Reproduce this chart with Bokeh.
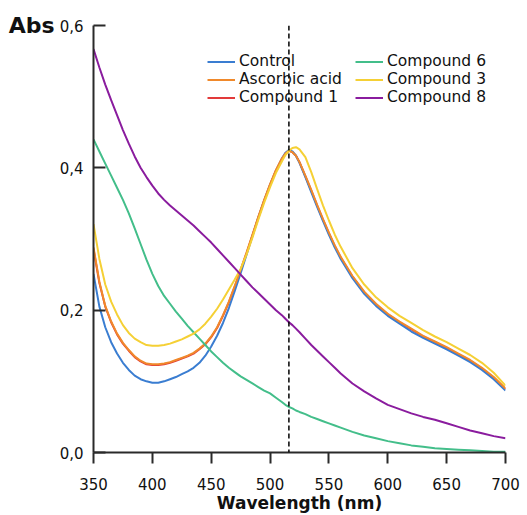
from bokeh.plotting import figure
from bokeh.models import ColumnDataSource, Legend, LegendItem, Span, FixedTicker
from bokeh.embed import file_html
from bokeh.resources import INLINE

# ---------------- data ----------------
wavelength = [350, 355, 360, 365, 370, 375, 380, 385, 390, 395,
              400, 405, 410, 415, 420, 425, 430, 435, 440, 445,
              450, 455, 460, 465, 470, 475, 480, 485, 490, 495,
              500, 505, 510, 513, 516, 519, 522, 525, 530, 535,
              540, 545, 550, 555, 560, 570, 580, 590, 600, 610,
              620, 630, 640, 650, 660, 670, 680, 690, 700]

control = [0.251, 0.205, 0.176, 0.155, 0.139, 0.126, 0.116, 0.108, 0.103, 0.100,
           0.098, 0.098, 0.100, 0.103, 0.106, 0.110, 0.114, 0.119, 0.126, 0.136,
           0.149, 0.164, 0.182, 0.203, 0.227, 0.252, 0.278, 0.304, 0.330, 0.354,
           0.376, 0.396, 0.413, 0.421, 0.425, 0.423, 0.417, 0.407, 0.387, 0.366,
           0.345, 0.325, 0.306, 0.288, 0.272, 0.245, 0.223, 0.206, 0.192, 0.181,
           0.170, 0.161, 0.153, 0.145, 0.136, 0.127, 0.116, 0.103, 0.087]

ascorbic_acid = [0.288, 0.240, 0.206, 0.184, 0.167, 0.154, 0.144, 0.135, 0.129, 0.125,
                 0.124, 0.124, 0.125, 0.127, 0.130, 0.133, 0.136, 0.140, 0.146, 0.153,
                 0.163, 0.176, 0.193, 0.212, 0.234, 0.257, 0.281, 0.306, 0.331, 0.355,
                 0.377, 0.397, 0.413, 0.420, 0.424, 0.422, 0.417, 0.408, 0.389, 0.369,
                 0.348, 0.328, 0.309, 0.291, 0.275, 0.248, 0.226, 0.209, 0.195, 0.184,
                 0.174, 0.164, 0.156, 0.148, 0.139, 0.130, 0.119, 0.106, 0.090]

compound_1 = [0.286, 0.238, 0.205, 0.183, 0.166, 0.153, 0.143, 0.134, 0.128, 0.124,
              0.123, 0.123, 0.124, 0.126, 0.129, 0.132, 0.135, 0.139, 0.145, 0.152,
              0.162, 0.175, 0.192, 0.211, 0.233, 0.256, 0.280, 0.305, 0.330, 0.354,
              0.376, 0.396, 0.412, 0.419, 0.424, 0.422, 0.417, 0.408, 0.388, 0.368,
              0.347, 0.327, 0.308, 0.290, 0.274, 0.247, 0.225, 0.208, 0.194, 0.183,
              0.173, 0.163, 0.155, 0.147, 0.138, 0.129, 0.118, 0.105, 0.089]

compound_6 = [0.440, 0.423, 0.406, 0.389, 0.372, 0.355, 0.336, 0.315, 0.293, 0.271,
              0.251, 0.234, 0.220, 0.209, 0.198, 0.188, 0.178, 0.169, 0.160, 0.151,
              0.142, 0.134, 0.126, 0.119, 0.113, 0.107, 0.102, 0.097, 0.092, 0.087,
              0.083, 0.077, 0.071, 0.067, 0.064, 0.062, 0.059, 0.057, 0.054, 0.050,
              0.047, 0.044, 0.041, 0.038, 0.035, 0.029, 0.024, 0.020, 0.016, 0.013,
              0.010, 0.008, 0.006, 0.005, 0.004, 0.003, 0.002, 0.001, 0.001]

compound_3 = [0.321, 0.272, 0.236, 0.212, 0.194, 0.179, 0.168, 0.160, 0.155, 0.151,
              0.150, 0.150, 0.151, 0.153, 0.156, 0.159, 0.163, 0.167, 0.173, 0.181,
              0.191, 0.202, 0.215, 0.229, 0.243, 0.258, 0.278, 0.302, 0.327, 0.351,
              0.373, 0.393, 0.409, 0.418, 0.424, 0.428, 0.429, 0.426, 0.415, 0.394,
              0.370, 0.347, 0.326, 0.306, 0.289, 0.259, 0.236, 0.218, 0.204, 0.192,
              0.182, 0.172, 0.163, 0.155, 0.146, 0.137, 0.126, 0.112, 0.094]

compound_8 = [0.567, 0.541, 0.517, 0.495, 0.474, 0.453, 0.434, 0.416, 0.400, 0.387,
              0.375, 0.364, 0.355, 0.347, 0.340, 0.333, 0.326, 0.319, 0.311, 0.303,
              0.295, 0.286, 0.277, 0.268, 0.259, 0.250, 0.241, 0.232, 0.224, 0.216,
              0.208, 0.200, 0.193, 0.188, 0.183, 0.179, 0.174, 0.169, 0.160, 0.151,
              0.143, 0.135, 0.127, 0.119, 0.111, 0.097, 0.086, 0.076, 0.067, 0.061,
              0.055, 0.050, 0.046, 0.041, 0.036, 0.031, 0.027, 0.023, 0.020]

peak_wavelength = 516
x_ticks = [350, 400, 450, 500, 550, 600, 650, 700]
y_ticks = [0.0, 0.2, 0.4, 0.6]
y_tick_labels = ["0,0", "0,2", "0,4", "0,6"]

series = [
    ("Compound 1", compound_1, "#e23a3a"),
    ("Control", control, "#3a7dd1"),
    ("Ascorbic acid", ascorbic_acid, "#f0892b"),
    ("Compound 6", compound_6, "#43be8a"),
    ("Compound 3", compound_3, "#f5d035"),
    ("Compound 8", compound_8, "#8a1c9e"),
]
legend_order = ["Control", "Ascorbic acid", "Compound 1",
                "Compound 6", "Compound 3", "Compound 8"]

FONT = "DejaVu Sans"

p = figure(width=527, height=515, x_range=(350, 700), y_range=(0, 0.6),
           output_backend="svg", toolbar_location=None,
           min_border_left=93, min_border_right=22, min_border_top=25,
           min_border_bottom=63)
p.outline_line_color = None
p.xgrid.grid_line_color = None
p.ygrid.grid_line_color = None
p.background_fill_color = "white"
p.border_fill_color = "white"

src = ColumnDataSource(dict(wl=wavelength, **{name: vals for name, vals, _ in series}))
renderers = {}
for name, vals, color in series:
    r = p.line("wl", name, source=src, line_color=color, line_width=2)
    renderers[name] = r

span = Span(location=peak_wavelength, dimension="height", line_color="black",
            line_dash="5 3", line_width=1.5)
p.add_layout(span)

# axes
for ax in (p.xaxis[0], p.yaxis[0]):
    ax.axis_line_color = "#2a2a2a"
    ax.axis_line_width = 2
    ax.major_tick_line_color = "#2a2a2a"
    ax.major_tick_line_width = 2
    ax.minor_tick_line_color = None
    ax.major_label_text_font = FONT
    ax.major_label_text_font_size = "15px"
    ax.major_label_text_color = "#111111"
    ax.axis_label_text_font = FONT
    ax.axis_label_text_font_style = "bold"
    ax.axis_label_text_color = "#111111"

p.xaxis.ticker = FixedTicker(ticks=x_ticks)
p.xaxis.major_tick_in = 0
p.xaxis.major_tick_out = 11
p.xaxis.major_label_standoff = 14
p.xaxis.axis_label = "Wavelength (nm)"
p.xaxis.axis_label_text_font_size = "17px"
p.xaxis.axis_label_standoff = 0

p.yaxis.ticker = FixedTicker(ticks=y_ticks)
p.yaxis.major_label_overrides = {t: l for t, l in zip(y_ticks, y_tick_labels)}
p.yaxis.major_tick_in = 12
p.yaxis.major_tick_out = 0
p.yaxis.major_label_standoff = 10
p.yaxis.axis_label = "Abs"
p.yaxis.axis_label_text_font_size = "22px"
p.yaxis.axis_label_orientation = "horizontal"
p.yaxis.axis_label_align = "end"
p.yaxis.axis_label_standoff = 2

legend = Legend(items=[LegendItem(label=n, renderers=[renderers[n]]) for n in legend_order],
                location=(114, 346), ncols=2)
legend.label_text_font = FONT
legend.label_text_font_size = "15.5px"
legend.label_text_color = "#111111"
legend.glyph_width = 28
legend.glyph_height = 17
legend.label_height = 17
legend.label_width = 116
legend.label_standoff = 4
legend.spacing = 0
legend.padding = 0
legend.margin = 0
legend.border_line_color = None
legend.background_fill_alpha = 0
p.add_layout(legend)

open("out.html", "w").write(file_html(p, INLINE))
